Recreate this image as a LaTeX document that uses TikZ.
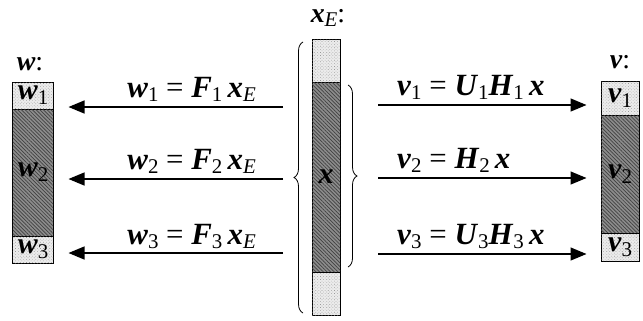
\documentclass[tikz,border=0pt]{standalone}
\usepackage{fontspec}
\setmainfont{Liberation Serif}
\usetikzlibrary{arrows.meta,patterns.meta,decorations.pathreplacing}
\newcommand{\bv}[1]{\textbf{\textit{#1}}}
\newcommand{\sbs}[1]{\raisebox{-0.35ex}{\fontsize{21}{21}\selectfont #1}}
\tikzset{
  cell/.style={draw, line width=1bp, inner sep=0pt, font=\fontsize{30}{30}\selectfont},
  darkcell/.style={cell, fill=black!45, postaction={pattern={Lines[angle=-45,distance=2.6bp,line width=0.7bp]}, pattern color=black!75}},
  lightcell/.style={cell, fill=black!8, postaction={pattern={Dots[angle=45,distance=2.2bp,radius=0.45bp]}, pattern color=black!40}},
  arr/.style={line width=1.3bp, -{Triangle[length=16bp,width=13bp]}},
  lab/.style={inner sep=0pt, font=\fontsize{31}{31}\selectfont},
  head/.style={inner sep=0pt, font=\fontsize{28}{28}\selectfont},
  brc/.style={decorate, decoration={brace, amplitude=9bp}, line width=0.8bp}
}
\begin{document}
\begin{tikzpicture}[x=1bp, y=-1bp]
\useasboundingbox (0,0) rectangle (643,320);
% w column
\node[lightcell, minimum width=40bp, minimum height=27bp] (w1) at (33,95.5) {\bv{w}\sbs{1}};
\node[darkcell, minimum width=40bp, minimum height=127bp] (w2) at (33,172.5) {\bv{w}\sbs{2}};
\node[lightcell, minimum width=40bp, minimum height=27bp] (w3) at (33,249.5) {\bv{w}\sbs{3}};
\node[head] (wl) at (30,64) {\bv{w}:};
% x_E column
\node[lightcell, minimum width=28bp, minimum height=43bp] (xe1) at (326,60.5) {};
\node[darkcell, minimum width=28bp, minimum height=190bp] (xe2) at (326,177) {\bv{x}};
\node[lightcell, minimum width=28bp, minimum height=43bp] (xe3) at (326,293.5) {};
\node[head, anchor=base] (xel) at (328,22) {\bv{x}\sbs{\textit{E}}:};
% v column
\node[lightcell, minimum width=38bp, minimum height=34bp] (v1) at (620,98) {\bv{v}\sbs{1}};
\node[darkcell, minimum width=38bp, minimum height=118bp] (v2) at (620,174) {\bv{v}\sbs{2}};
\node[lightcell, minimum width=38bp, minimum height=28bp] (v3) at (620,247) {\bv{v}\sbs{3}};
\node[head] (vl) at (620,62) {\bv{v}:};
% braces
\draw[brc] (303,313) -- (303,42);
\draw[brc] (348,85) -- (348,267);
% left arrows
\coordinate (a1) at (283,107);
\coordinate (a2) at (283,179);
\coordinate (a3) at (283,253);
\draw[arr, shorten >=15bp] (a1) -- (a1 -| w1.east);
\draw[arr, shorten >=15bp] (a2) -- (a2 -| w2.east);
\draw[arr, shorten >=15bp] (a3) -- (a3 -| w3.east);
\node[lab, anchor=base east] (lw1) at (256,97) {\bv{w}\sbs{1} = \bv{F}\sbs{1}\,\bv{x}\sbs{\textit{E}}};
\node[lab, anchor=base east] (lw2) at (256,169) {\bv{w}\sbs{2} = \bv{F}\sbs{2}\,\bv{x}\sbs{\textit{E}}};
\node[lab, anchor=base east] (lw3) at (256,244) {\bv{w}\sbs{3} = \bv{F}\sbs{3}\,\bv{x}\sbs{\textit{E}}};
% right arrows
\coordinate (b1) at (378,105);
\coordinate (b2) at (378,178);
\coordinate (b3) at (378,254);
\draw[arr, shorten >=14bp] (b1) -- (b1 -| v1.west);
\draw[arr, shorten >=14bp] (b2) -- (b2 -| v2.west);
\draw[arr, shorten >=14bp] (b3) -- (b3 -| v3.west);
\node[lab, anchor=base west] (lv1) at (397,95) {\bv{v}\sbs{1} = \bv{U}\sbs{1}\bv{H}\sbs{1}\,\bv{x}};
\node[lab, anchor=base west] (lv2) at (397,168) {\bv{v}\sbs{2} = \bv{H}\sbs{2}\,\bv{x}};
\node[lab, anchor=base west] (lv3) at (397,244) {\bv{v}\sbs{3} = \bv{U}\sbs{3}\bv{H}\sbs{3}\,\bv{x}};
\end{tikzpicture}
\end{document}
